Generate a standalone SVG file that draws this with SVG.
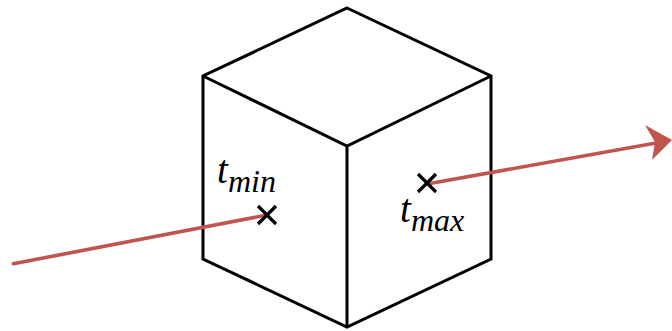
<svg xmlns="http://www.w3.org/2000/svg" width="672" height="331" viewBox="0 0 672 331">
<style>
.edge{fill:none;stroke:#000;stroke-width:3;stroke-linejoin:miter}
.ray{fill:none;stroke:#c0544f;stroke-width:3.6}
.head{fill:#c0544f}
.mark{fill:none;stroke:#000;stroke-width:3.2}
text{font-family:"Liberation Serif",serif;font-style:italic;fill:#000}
.t{font-size:39px}
.s{font-size:32px}
</style>
<rect width="672" height="331" fill="#fff"/>
<g id="cube">
<path class="edge" d="M347 8L491 76L491 259L347 327L203 259L203 76Z"/>
<path class="edge" d="M203 76L347 146L491 76M347 146L347 327"/>
</g>
<g id="connectors">
<path class="ray" d="M12 264L267 215"/>
<path class="ray" d="M427 184L656 143"/>
<polygon class="head" points="672,140 645,125 655,142 652,160"/>
</g>
<g id="tmin">
<path class="mark" d="M258 206L276 224M276 206L258 224"/>
<text x="217" y="183" class="t">t</text>
<text x="228" y="192" class="s">min</text>
</g>
<g id="tmax">
<path class="mark" d="M418 174L436 192M436 174L418 192"/>
<text x="400" y="222" class="t">t</text>
<text x="411" y="231" class="s">max</text>
</g>
</svg>
